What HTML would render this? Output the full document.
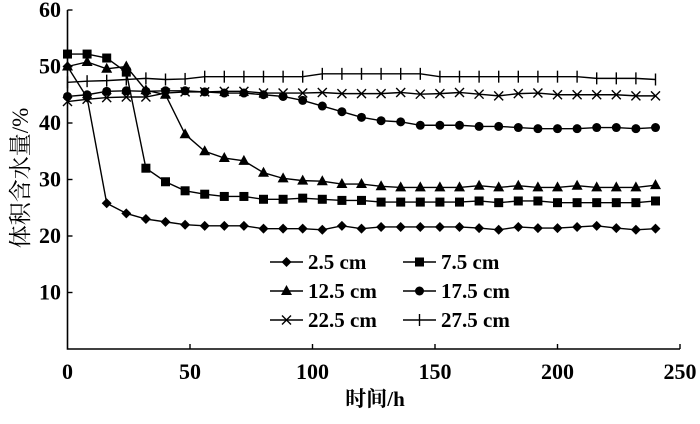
<!DOCTYPE html>
<html><head><meta charset="utf-8"><style>
body{margin:0;background:#fff}
svg text{font-family:"Liberation Serif","Noto Serif CJK SC",serif;fill:#000}
</style></head><body>
<svg id="c" width="700" height="419" viewBox="0 0 700 419"></svg>
<script>
const times=[0,8,16,24,32,40,48,56,64,72,80,88,96,104,112,120,128,136,144,152,160,168,176,184,192,200,208,216,224,232,240];
const s25=[50,44.5,25.8,24,23,22.5,22,21.8,21.8,21.8,21.3,21.3,21.3,21.1,21.8,21.3,21.6,21.6,21.6,21.6,21.6,21.4,21.1,21.6,21.4,21.4,21.6,21.8,21.4,21.1,21.3];
const s75=[52.2,52.2,51.5,49,32,29.6,28,27.4,27,27,26.5,26.5,26.7,26.5,26.3,26.3,26,26,26,26,26,26.2,25.9,26.2,26.2,25.9,25.9,25.9,25.9,25.9,26.2];
const s125=[50,50.8,49.6,50,45.8,45,38,35,33.8,33.3,31.2,30.2,29.8,29.7,29.2,29.2,28.8,28.6,28.6,28.6,28.6,28.9,28.6,28.9,28.6,28.6,28.9,28.6,28.6,28.6,29];
const s175=[44.7,45,45.6,45.7,45.6,45.7,45.7,45.5,45.3,45.3,45,44.7,44,43,42,41,40.4,40.2,39.6,39.6,39.6,39.4,39.4,39.2,39,39,39,39.2,39.2,39,39.2];
const s225=[43.8,44.2,44.5,44.6,44.6,45.3,45.5,45.5,45.6,45.6,45.3,45.3,45.3,45.4,45.2,45.2,45.2,45.4,45.1,45.2,45.4,45.1,44.8,45.2,45.3,45,45,45,45,44.8,44.8];
const s275=[47.2,47.4,47.5,47.7,47.9,47.7,47.8,48.2,48.2,48.2,48.2,48.2,48.2,48.7,48.7,48.7,48.7,48.7,48.7,48.2,48.2,48.2,48.2,48.2,48.2,48.2,48.2,47.9,47.9,47.9,47.7];
const seriesNames=["2.5 cm","7.5 cm","12.5 cm","17.5 cm","22.5 cm","27.5 cm"];
const xTicks=[0,50,100,150,200,250];
const yTicks=[10,20,30,40,50,60];

const NS="http://www.w3.org/2000/svg",svg=document.getElementById('c');
const X=v=>67.5+v*2.45, Y=v=>349-v*5.65;
function mk(t,a,p){const e=document.createElementNS(NS,t);for(const k in a)e.setAttribute(k,a[k]);(p||svg).appendChild(e);return e;}
let ax=mk('path',{d:`M${X(0)} ${Y(60)}V${Y(0)}H${X(250)}`,stroke:'#000','stroke-width':1.6,fill:'none'});


xTicks.forEach(t=>{
  if(t>0)mk('line',{x1:X(t),x2:X(t),y1:Y(0),y2:Y(0)-5,stroke:'#000','stroke-width':1.4});
  const tx=mk('text',{x:X(t),y:379,'text-anchor':'middle','font-size':22,'font-weight':'bold'});tx.textContent=t;
  
  
});
yTicks.forEach(t=>{
  mk('line',{x1:X(0),x2:X(0)+5,y1:Y(t),y2:Y(t),stroke:'#000','stroke-width':1.4});
  const tx=mk('text',{x:61,y:Y(t)+7,'text-anchor':'end','font-size':22,'font-weight':'bold'});tx.textContent=t;
  
  
});
let xt=mk('text',{x:375,y:406,'text-anchor':'middle','font-size':21,'font-weight':'bold'});xt.textContent='时间/h';


let yt=mk('text',{x:0,y:0,'text-anchor':'middle','font-size':23,transform:'translate(28,178) rotate(-90)'});yt.textContent='体积含水量/%';



function marker(type,x,y,g){
  if(type===0)mk('path',{d:`M${x} ${y-5}L${x+5} ${y}L${x} ${y+5}L${x-5} ${y}Z`,fill:'#000'},g);
  else if(type===1)mk('rect',{x:x-4.5,y:y-4.5,width:9,height:9,fill:'#000'},g);
  else if(type===2)mk('path',{d:`M${x} ${y-6}L${x+5.5} ${y+4}L${x-5.5} ${y+4}Z`,fill:'#000'},g);
  else if(type===3)mk('circle',{cx:x,cy:y,r:4.5,fill:'#000'},g);
  else if(type===4)mk('path',{d:`M${x-4.5} ${y-4.5}L${x+4.5} ${y+4.5}M${x+4.5} ${y-4.5}L${x-4.5} ${y+4.5}`,stroke:'#000','stroke-width':1.4},g);
  else mk('path',{d:`M${x} ${y-6}V${y+6}`,stroke:'#000','stroke-width':1.4},g);
}
const all=[s25,s75,s125,s175,s225,s275];
all.forEach((s,i)=>{
  const g=mk('g',{});
  
  
  mk('polyline',{points:s.map((v,j)=>X(times[j])+','+Y(v)).join(' '),fill:'none',stroke:'#000','stroke-width':1.4},g);
  s.forEach((v,j)=>marker(i,X(times[j]),Y(v),g));
});
seriesNames.forEach((n,i)=>{
  const col=i%2,row=Math.floor(i/2);
  const lx=col?403:270, ly=262+row*29;
  const g=mk('g',{});
  
  
  mk('line',{x1:lx,x2:lx+33,y1:ly,y2:ly,stroke:'#000','stroke-width':1.4},g);
  marker(i,lx+16.5,ly,g);
  const t=mk('text',{x:lx+38,y:ly+7,'font-size':21,'font-weight':'bold'},g);t.textContent=n;
});
</script>
</body></html>
